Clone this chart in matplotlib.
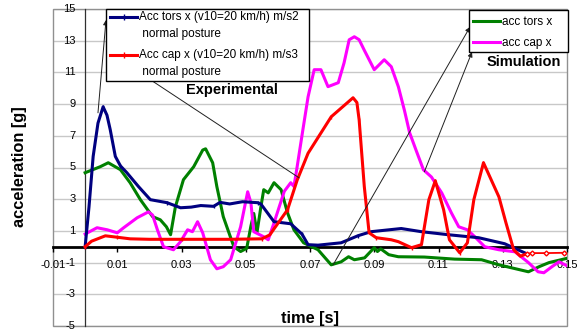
import matplotlib
matplotlib.use("Agg")
import matplotlib.pyplot as plt
from matplotlib.lines import Line2D
from matplotlib.patches import Rectangle

plt.rcParams['font.family'] = ['Liberation Sans', 'DejaVu Sans']

# ---------------- data ----------------
tors_exp_t = [0, 0.0012, 0.0025, 0.004, 0.0056, 0.0068, 0.0078, 0.0094, 0.011, 0.013, 0.0166,
              0.0203, 0.0255, 0.0297, 0.033, 0.036, 0.04, 0.042, 0.045, 0.049, 0.0537, 0.0547,
              0.0588, 0.064, 0.0675, 0.0694, 0.0725, 0.0797, 0.085, 0.089, 0.0984, 0.1047,
              0.113, 0.1225, 0.1306, 0.137]
tors_exp_a = [0, 2.5, 5.7, 7.8, 8.83, 8.3, 7.4, 5.7, 5.1, 4.67, 3.8,
              2.97, 2.78, 2.46, 2.5, 2.6, 2.55, 2.8, 2.7, 2.84, 2.78, 2.7,
              1.58, 1.45, 0.8, 0.13, 0.1, 0.25, 0.7, 0.95, 1.15, 0.95,
              0.76, 0.57, 0.19, -0.4]

cap_exp_t = [0, 0.002, 0.0063, 0.010, 0.014, 0.02, 0.03, 0.04, 0.045, 0.055, 0.0575, 0.0588,
             0.063, 0.066, 0.0694, 0.0766, 0.0834, 0.0846, 0.0853, 0.0869, 0.0884, 0.0906,
             0.0953, 0.0975, 0.1016, 0.1047, 0.107, 0.109, 0.1116, 0.1134, 0.1166, 0.119,
             0.121, 0.124, 0.1288, 0.131, 0.1334, 0.1355, 0.1375]
cap_exp_a = [0, 0.35, 0.69, 0.6, 0.5, 0.47, 0.47, 0.47, 0.47, 0.5, 0.75, 1.13,
             2.33, 4.2, 5.9, 8.2, 9.4, 9.1, 8.0, 3.8, 0.88, 0.57,
             0.44, 0.32, -0.06, 0.13, 2.97, 4.16, 2.33, 0.44, -0.38, 0.25,
             2.97, 5.3, 3.15, 1.51, -0.19, -0.6, -0.44]
cap_exp_tail_t = [0.1375, 0.139, 0.1435, 0.149]
cap_exp_tail_a = [-0.44, -0.4, -0.4, -0.38]

tors_sim_t = [0, 0.0047, 0.0072, 0.011, 0.014, 0.0172, 0.021, 0.0234, 0.0253, 0.0266, 0.0281,
              0.0306, 0.0338, 0.0366, 0.0375, 0.0397, 0.041, 0.043, 0.0463, 0.0484, 0.0503,
              0.0516, 0.0525, 0.0535, 0.0547, 0.0556, 0.057, 0.0588, 0.061, 0.063, 0.065,
              0.068, 0.0725, 0.0766, 0.0797, 0.082, 0.0838, 0.087, 0.09, 0.091, 0.092,
              0.0945, 0.0975, 0.1056, 0.115, 0.1234, 0.1288, 0.138, 0.1413, 0.1444, 0.1506]
tors_sim_a = [4.67, 5.05, 5.3, 4.86, 4.04, 2.97, 1.9, 1.7, 1.26, 0.76, 2.52,
              4.23, 5.05, 6.1, 6.18, 5.3, 3.8, 1.9, 0.0, -0.3, -0.1,
              1.3, 2.1, 0.9, 2.5, 3.6, 3.4, 4.04, 3.6, 2.14, 1.07,
              0.25, -0.19, -1.14, -0.95, -0.63, -0.82, -0.7, -0.06, -0.3, -0.13,
              -0.5, -0.63, -0.65, -0.78, -0.82, -1.14, -1.58, -1.26, -1.0, -0.7]

cap_sim_t = [0, 0.0037, 0.0069, 0.01, 0.012, 0.0162, 0.0197, 0.021, 0.0225, 0.0244, 0.0275,
             0.0297, 0.0319, 0.0334, 0.035, 0.0366, 0.039, 0.041, 0.043, 0.0453, 0.0484,
             0.0506, 0.0516, 0.0525, 0.0556, 0.057, 0.0588, 0.062, 0.064, 0.065, 0.066,
             0.0678, 0.0694, 0.0713, 0.0734, 0.0756, 0.0788, 0.0806, 0.0822, 0.0838, 0.0853,
             0.0869, 0.09, 0.0931, 0.0953, 0.0975, 0.0994, 0.101, 0.103, 0.1053, 0.1078,
             0.111, 0.114, 0.1163, 0.119, 0.1213, 0.1244, 0.1288, 0.1338, 0.138, 0.141,
             0.1428, 0.1453, 0.1475, 0.1506]
cap_sim_a = [0.8, 1.2, 1.07, 0.88, 1.2, 1.83, 2.2, 2.0, 1.07, 0.0, -0.19,
             0.32, 1.07, 0.95, 1.58, 0.88, -0.82, -1.39, -1.26, -0.82, 1.26,
             3.47, 2.78, 0.95, 0.63, 0.44, 1.51, 3.5, 4.04, 3.8, 5.05,
             7.4, 9.46, 11.17, 11.17, 10.1, 10.35, 11.6, 13.06, 13.25, 13.06,
             12.4, 11.17, 11.8, 11.36, 10.1, 8.6, 7.2, 6.1, 4.86, 4.4,
             3.4, 2.14, 1.26, 1.07, 0.63, 0.0, -0.19, -0.32, -1.0, -1.58,
             -1.64, -1.26, -0.95, -1.26]

x_ticks = [-0.01, 0.01, 0.03, 0.05, 0.07, 0.09, 0.11, 0.13, 0.15]
x_tick_labels = ["-0.01", "0.01", "0.03", "0.05", "0.07", "0.09", "0.11", "0.13", "0.15"]
y_ticks = [-5, -3, -1, 1, 3, 5, 7, 9, 11, 13, 15]

exp_labels = ["Acc tors x (v10=20 km/h) m/s2\n normal posture",
              "Acc cap x (v10=20 km/h) m/s3\n normal posture"]
sim_labels = ["acc tors x", "acc cap x"]

NAVY, RED, GREEN, MAG = '#000080', '#ff0000', '#008000', '#ff00ff'

# ---------------- figure ----------------
W, H = 577, 334
fig = plt.figure(figsize=(W / 100, H / 100), dpi=100)

def fx(px):
    return px / W

def fy(py):
    return 1 - py / H

ax = fig.add_axes([fx(53), fy(326), fx(567) - fx(53), fy(9) - fy(326)])
ax.set_xlim(-0.01, 0.15)
ax.set_ylim(-5, 15)

# gridlines
for yv in y_ticks:
    ax.axhline(yv, color='#c8c8c8', lw=1.0, zorder=0)

# spines
ax.spines['top'].set_visible(False)
ax.spines['right'].set_visible(False)
ax.spines['bottom'].set_position(('data', 0))
ax.spines['bottom'].set_linewidth(2.0)
ax.spines['bottom'].set_color('black')
ax.spines['bottom'].set_zorder(1)
ax.spines['left'].set_position(('data', 0))
ax.spines['left'].set_linewidth(0.9)
ax.spines['left'].set_color('#303030')

# plot area border
ax.add_patch(Rectangle((0, 0), 1, 1, transform=ax.transAxes, fill=False,
                       edgecolor='#909090', lw=1.0, zorder=0.5, clip_on=False))

ax.set_xticks(x_ticks)
ax.set_xticklabels(x_tick_labels)
ax.set_yticks(y_ticks)
ax.set_yticklabels([str(v) for v in y_ticks])
ax.tick_params(axis='x', direction='out', length=3.5, width=1, colors='black',
               labelsize=8, pad=6)
ax.tick_params(axis='y', direction='out', length=0, labelsize=8, pad=7)
for lab in ax.get_yticklabels():
    lab.set_verticalalignment('center')

# curves
lw = 2.2
ax.plot(tors_sim_t, tors_sim_a, color=GREEN, lw=lw, zorder=3)
ax.plot(cap_sim_t, cap_sim_a, color=MAG, lw=lw, zorder=3)
ax.plot(tors_exp_t, tors_exp_a, color=NAVY, lw=lw, zorder=4,
        marker='|', markersize=3, markevery=4)
ax.plot(cap_exp_t, cap_exp_a, color=RED, lw=lw, zorder=5,
        marker='|', markersize=3, markevery=3)
ax.plot(cap_exp_tail_t, cap_exp_tail_a, color=RED, lw=1.3, zorder=5,
        marker='D', markersize=2.5, markerfacecolor='white', markeredgecolor=RED)

# axis labels
fig.text(fx(20), fy(167), "acceleration [g]", rotation=90, fontsize=11.8,
         fontweight='bold', ha='center', va='center')
fig.text(fx(310), fy(318), "time [s]", fontsize=11.8, fontweight='bold',
         ha='center', va='center')

# ---------------- legends (manual) ----------------
def legend_box(x0, y0, x1, y1):
    fig.patches.append(Rectangle((fx(x0), fy(y1)), fx(x1) - fx(x0), fy(y0) - fy(y1),
                                 transform=fig.transFigure, facecolor='white',
                                 edgecolor='black', lw=1.0, zorder=6))

legend_box(106, 9, 309, 81)
exp_rows = [(NAVY, 17, exp_labels[0]), (RED, 55, exp_labels[1])]
for col, yy, lab in exp_rows:
    fig.lines.append(Line2D([fx(110), fx(137)], [fy(yy), fy(yy)], transform=fig.transFigure,
                            color=col, lw=2.2, zorder=7))
    fig.lines.append(Line2D([fx(123.5)], [fy(yy)], transform=fig.transFigure,
                            color=col, marker='|', markersize=4, zorder=7))
    fig.text(fx(139), fy(yy - 6), lab, fontsize=8.5, ha='left', va='top', zorder=8,
             linespacing=1.55)

legend_box(469, 10, 568, 52)
sim_rows = [(GREEN, 21, sim_labels[0]), (MAG, 42, sim_labels[1])]
for col, yy, lab in sim_rows:
    fig.lines.append(Line2D([fx(473), fx(500)], [fy(yy), fy(yy)], transform=fig.transFigure,
                            color=col, lw=2.2, zorder=7))
    fig.text(fx(502), fy(yy + 1), lab, fontsize=8.5, ha='left', va='center', zorder=8)

fig.text(fx(232), fy(90), "Experimental", fontsize=10.5, fontweight='bold',
         ha='center', va='center')
fig.text(fx(524), fy(62), "Simulation", fontsize=10.5, fontweight='bold',
         ha='center', va='center')

# ---------------- arrows ----------------
arrow_specs = [((tors_exp_t[3], 8.45), (106, 20)),
               ((0.0666, 4.35), (125, 63)),
               ((0.0772, -1.14), (470, 27)),
               ((0.1056, 4.73), (472, 52))]
for (xd, yd), (px, py) in arrow_specs:
    ann = ax.annotate('', xy=(fx(px), fy(py)), xycoords='figure fraction',
                      xytext=(xd, yd), textcoords='data',
                      arrowprops=dict(arrowstyle='-|>', color='#202020', lw=0.7,
                                      mutation_scale=7, shrinkA=0, shrinkB=0),
                      annotation_clip=False)
    ann.set_zorder(9)

fig.savefig("out.png", dpi=100)
